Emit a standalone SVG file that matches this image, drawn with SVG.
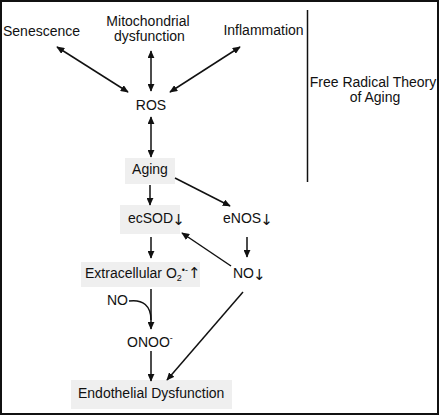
<svg xmlns="http://www.w3.org/2000/svg" width="440" height="416" viewBox="0 0 440 416">
<style>
text{font-family:"Liberation Sans",Arial,sans-serif;font-size:14px;fill:#111}
.c{text-anchor:middle}
.ar{font-family:"DejaVu Sans",sans-serif;font-size:15px}
.box{fill:#efefef}
.ln{stroke:#111;stroke-width:1.5;fill:none}
</style>
<defs>
<marker id="ah" viewBox="0 0 10 10" refX="9" refY="5" markerWidth="8" markerHeight="7" markerUnits="userSpaceOnUse" orient="auto-start-reverse" preserveAspectRatio="none">
<path d="M0,0 L10,5 L0,10 Z" fill="#111"/>
</marker>
</defs>
<rect x="1" y="1" width="437" height="413" fill="#fff" stroke="#111" stroke-width="2"/>
<g id="senescence"><text class="c" x="41.5" y="36">Senescence</text></g>
<g id="mito"><text class="c" x="148" y="26" font-size="13.5">Mitochondrial</text><text class="c" x="149.5" y="41" font-size="13.5">dysfunction</text></g>
<g id="inflammation"><text class="c" x="263.5" y="35">Inflammation</text></g>
<g id="theory"><line x1="307.5" y1="10" x2="307.5" y2="182" class="ln"/><text class="c" x="373" y="87">Free Radical Theory</text><text class="c" x="375" y="102">of Aging</text></g>
<g id="ros"><text class="c" x="151" y="110">ROS</text></g>
<g id="aging"><rect class="box" x="125" y="158" width="50" height="26"/><text class="c" x="150" y="174">Aging</text></g>
<g id="ecsod"><rect class="box" x="120" y="205" width="60" height="29"/><text x="128" y="223">ecSOD<tspan class="ar" dx="-1" dy="2">↓</tspan></text></g>
<g id="enos"><text x="223" y="223">eNOS<tspan class="ar" dx="-1" dy="2">↓</tspan></text></g>
<g id="extracellular"><rect class="box" x="81" y="262" width="119" height="25"/><text x="85" y="278">Extracellular O<tspan font-size="9" dy="3">2</tspan><tspan font-size="9" dy="-8">•-</tspan><tspan class="ar" dy="5">↑</tspan></text></g>
<g id="no-right"><text x="233" y="278">NO<tspan class="ar" dx="-1" dy="2">↓</tspan></text></g>
<g id="no-left"><text x="107" y="305">NO</text></g>
<g id="onoo"><text x="127" y="347">ONOO<tspan font-size="9" dy="-6">-</tspan></text></g>
<g id="endothelial"><rect class="box" x="71" y="380" width="161" height="29"/><text x="78" y="398">Endothelial Dysfunction</text></g>
<g id="connectors">
<line class="ln" x1="57" y1="47" x2="128" y2="92" marker-start="url(#ah)" marker-end="url(#ah)"/>
<line class="ln" x1="151" y1="51" x2="151" y2="91" marker-start="url(#ah)" marker-end="url(#ah)"/>
<line class="ln" x1="240" y1="47" x2="170" y2="92" marker-start="url(#ah)" marker-end="url(#ah)"/>
<line class="ln" x1="151" y1="117" x2="151" y2="157" marker-start="url(#ah)" marker-end="url(#ah)"/>
<line class="ln" x1="150" y1="185" x2="150" y2="205" marker-end="url(#ah)"/>
<line class="ln" x1="175" y1="178" x2="230" y2="206" marker-end="url(#ah)"/>
<line class="ln" x1="151" y1="237" x2="151" y2="258" marker-end="url(#ah)"/>
<line class="ln" x1="247" y1="237" x2="247" y2="257" marker-end="url(#ah)"/>
<line class="ln" x1="231" y1="266" x2="182" y2="233" marker-end="url(#ah)"/>
<line class="ln" x1="151" y1="289" x2="151" y2="329" marker-end="url(#ah)"/>
<path class="ln" d="M129,301 C143,299 151,306 151,320"/>
<line class="ln" x1="151" y1="351" x2="151" y2="381" marker-end="url(#ah)"/>
<line class="ln" x1="243" y1="292" x2="167" y2="380" marker-end="url(#ah)"/>
</g>
</svg>
